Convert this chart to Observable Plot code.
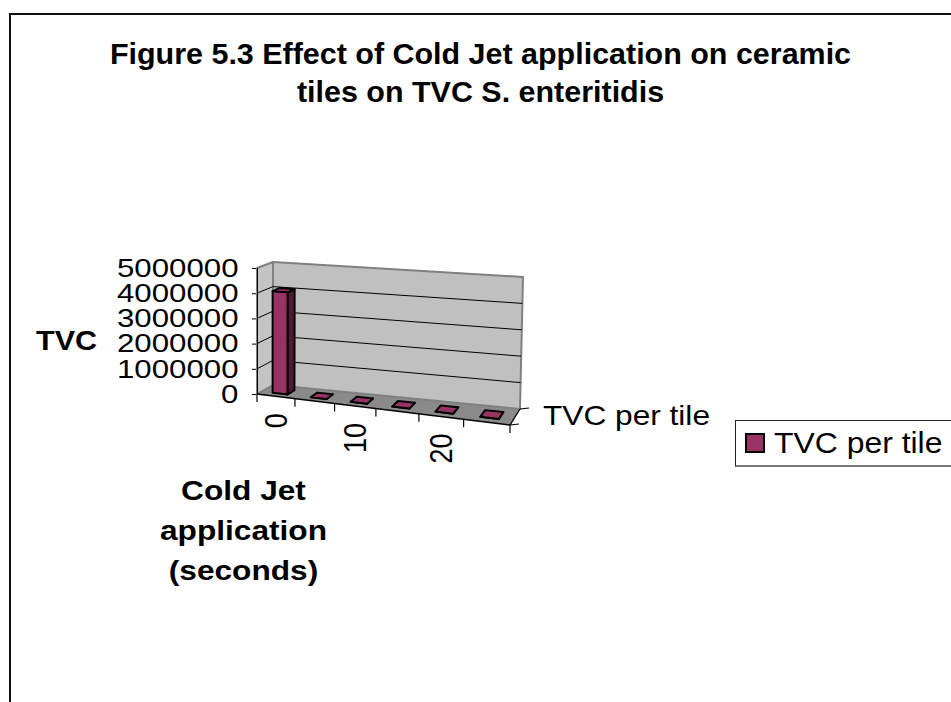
<!DOCTYPE html>
<html><head><meta charset="utf-8">
<script src="https://cdn.jsdelivr.net/npm/d3@7"></script>
<script src="https://cdn.jsdelivr.net/npm/@observablehq/plot@0.6"></script>
<style>
body{margin:0;background:#fff;width:951px;height:702px;overflow:hidden;position:relative;font-family:"Liberation Sans",Arial,sans-serif}
#chart{position:absolute;left:0;top:0}
#frame{position:absolute;left:9px;top:13px;width:980px;height:720px;border-left:2px solid #111;border-top:2px solid #111;pointer-events:none}
#legend{position:absolute;left:735px;top:420px;width:240px;height:44px;border:1px solid #222;border-bottom:2px solid #777;background:#fff}
#legend .sw{position:absolute;left:9px;top:12px;width:16px;height:16px;border:2px solid #000;background:#993366}
#legend .lt{position:absolute;left:38px;top:8px;font-size:29px;line-height:29px;white-space:nowrap;transform:scaleX(1.1);transform-origin:left center;color:#000}
</style></head><body>
<div id="chart"></div>
<div id="frame"></div>
<div id="legend"><span class="sw"></span><span class="lt"></span></div>
<script>
// ---- data ----
const titleLines = ["Figure 5.3 Effect of Cold Jet application on ceramic", "tiles on TVC S. enteritidis"];
const categories = ["0", "5", "10", "15", "20", "25"];
const tvcPerTile = [4050000, 0, 0, 0, 0, 0];
const seriesName = "TVC per tile";
const yTicks = [0, 1000000, 2000000, 3000000, 4000000, 5000000];
const xTickLabels = ["0", "10", "20"];
const yLabel = "TVC";
const xLabelLines = ["Cold Jet", "application", "(seconds)"];

const rows = categories.map((c, i) => ({category: c, index: i, value: tvcPerTile[i]}));
const n = categories.length;
const yMax = yTicks[yTicks.length - 1];
const FONT = "Liberation Sans, Arial, sans-serif";

// ---- 3D scene drawn through Plot's x/y scales ----
function scene(index, scales) {
  const X = scales.x, Y = scales.y;
  const x0 = X(0), x1 = X(n), yb = Y(0), yt = Y(yMax);
  const W = x1 - x0, H = yb - yt;
  // oblique/perspective box corners derived from the scale ranges
  const C = {
    FLB: [x0, yb], FLT: [x0, yt], FRB: [x1, yb + 31], FRT: [x1, yb - 104],
    BLB: [x0 + 16, yb - 9], BLT: [x0 + 16, yt - 6], BRB: [x1 + 10, yb + 15], BRT: [x1 + 13, yt + 9]
  };
  const lerp = (p, q, t) => [p[0] + (q[0] - p[0]) * t, p[1] + (q[1] - p[1]) * t];
  const P = (u, v, d) => {
    let a = (X(u) - x0) / W; a = a - 0.12 * a * (1 - a);
    const b = (yb - Y(v)) / H;
    const fb = lerp(C.FLB, C.FRB, a), ft = lerp(C.FLT, C.FRT, a);
    const bb = lerp(C.BLB, C.BRB, a), bt = lerp(C.BLT, C.BRT, a);
    return lerp(lerp(fb, ft, b), lerp(bb, bt, b), d);
  };
  const f = p => p[0].toFixed(2) + "," + p[1].toFixed(2);
  const poly = pts => "M" + pts.map(f).join("L") + "Z";
  const path = pts => "M" + pts.map(f).join("L");
  const g = d3.create("svg:g").attr("aria-label", "3d-scene");

  // floor
  g.append("path").attr("d", poly([P(0,0,0), P(n,0,0), P(n,0,1), P(0,0,1)])).attr("fill", "#8a8a8a");
  // back wall
  g.append("path").attr("d", poly([P(0,0,1), P(n,0,1), P(n,yMax,1), P(0,yMax,1)]))
    .attr("fill", "#c0c0c0").attr("stroke", "#808080").attr("stroke-width", 2).attr("stroke-linejoin", "round");
  // left wall
  g.append("path").attr("d", poly([P(0,0,0), P(0,0,1), P(0,yMax,1), P(0,yMax,0)]))
    .attr("fill", "#c4c4c4").attr("stroke", "#808080").attr("stroke-width", 2).attr("stroke-linejoin", "round");
  // gridlines
  for (const t of yTicks) {
    if (t <= 0 || t >= yMax) continue;
    g.append("path").attr("d", path([P(0,t,0), P(0,t,1), P(n,t,1)]))
      .attr("fill", "none").attr("stroke", "#000").attr("stroke-width", 1);
  }
  // floor edges (category axis & series axis)
  g.append("path").attr("d", path([P(0,0,0), P(n,0,0), P(n,0,1)]))
    .attr("fill", "none").attr("stroke", "#000").attr("stroke-width", 1.3);
  for (let i = 0; i <= n; i++) {
    const p = P(i, 0, 0);
    g.append("line").attr("x1", p[0]).attr("y1", p[1]).attr("x2", p[0]).attr("y2", p[1] + 8)
      .attr("stroke", "#000").attr("stroke-width", 1.2);
  }
  for (const d of [0, 1]) {
    const p = P(n, 0, d);
    g.append("line").attr("x1", p[0]).attr("y1", p[1]).attr("x2", p[0] + 9).attr("y2", p[1] - 1)
      .attr("stroke", "#000").attr("stroke-width", 1.2);
  }
  // bars
  for (const r of rows) {
    const u0 = r.index + 0.3, u1 = r.index + 0.7, d0 = 0.28, d1 = 0.72, v = r.value;
    const bar = g.append("g").attr("stroke", "#000").attr("stroke-width", 2).attr("stroke-linejoin", "round");
    bar.append("path").attr("d", poly([P(u0,0,d0), P(u1,0,d0), P(u1,v,d0), P(u0,v,d0)])).attr("fill", "#993366");
    bar.append("path").attr("d", poly([P(u1,0,d0), P(u1,0,d1), P(u1,v,d1), P(u1,v,d0)])).attr("fill", "#4f1a35");
    bar.append("path").attr("d", poly([P(u0,v,d0), P(u1,v,d0), P(u1,v,d1), P(u0,v,d1)])).attr("fill", "#993366");
  }
  // category tick labels (rotated)
  for (const r of rows) {
    if (!xTickLabels.includes(r.category)) continue;
    const p = P(r.index + 0.5, 0, 0);
    g.append("text").attr("class", "rot")
      .attr("transform", `translate(${p[0].toFixed(2)},${(p[1] + 17).toFixed(2)}) scale(1.15,1) rotate(-90)`)
      .attr("text-anchor", "end").attr("dy", "0.35em")
      .attr("font-family", FONT).attr("font-size", 27).attr("fill", "#000")
      .text(r.category);
  }
  // series (depth) axis label
  const s = P(n, 0, 0.5);
  g.append("text").attr("class", "series-label")
    .attr("x", s[0] + 28).attr("y", s[1] - 2).attr("dy", "0.35em")
    .attr("text-anchor", "start")
    .attr("font-family", FONT).attr("font-size", 28).attr("fill", "#000")
    .text(seriesName);
  return g.node();
}

const mT = 268, mB = 308, mL = 257, mR = 441;
const svg = Plot.plot({
  width: 951, height: 702,
  marginTop: mT, marginBottom: mB, marginLeft: mL, marginRight: mR,
  style: {fontFamily: FONT, fontSize: "26px", background: "transparent", overflow: "visible", color: "#000"},
  x: {type: "linear", domain: [0, n], axis: null},
  y: {type: "linear", domain: [0, yMax], ticks: yTicks, tickSize: 5, tickPadding: 14,
      tickFormat: d3.format("d"), label: null},
  marks: [
    scene,
    Plot.ruleX([0], {y1: 0, y2: yMax, stroke: "#000", strokeWidth: 1}),
    ...titleLines.map((line, i) => Plot.text([line], {
      text: d => d, frameAnchor: "top", dx: 96.5, dy: -205 + 38 * i, lineAnchor: "bottom",
      fontSize: 29, fontWeight: "bold", fontFamily: FONT, fill: "#000", ariaDescription: "title"
    })),
    Plot.text([yLabel], {
      text: d => d, frameAnchor: "left", dx: -191, dy: 10, lineAnchor: "middle", textAnchor: "middle",
      fontSize: 27, fontWeight: "bold", fontFamily: FONT, fill: "#000", ariaDescription: "axis-title"
    }),
    ...xLabelLines.map((line, i) => Plot.text([line], {
      text: d => d, frameAnchor: "bottom", dx: -140.5, dy: 105 + 40 * i, lineAnchor: "bottom", textAnchor: "middle",
      fontSize: 28, fontWeight: "bold", fontFamily: FONT, fill: "#000", ariaDescription: "axis-title"
    }))
  ]
});
document.getElementById("chart").append(svg);

// legend
document.querySelector("#legend .lt").textContent = seriesName;

// widen glyphs horizontally to match the reference's stretched lettering
function stretch(sel, s) {
  svg.querySelectorAll(sel).forEach(t => {
    const spans = t.querySelectorAll("tspan");
    const targets = spans.length ? Array.from(spans) : [t];
    targets.forEach(el => {
      const w = el.getComputedTextLength();
      if (w > 0) { el.setAttribute("textLength", (w * s).toFixed(1)); el.setAttribute("lengthAdjust", "spacingAndGlyphs"); }
    });
  });
}
stretch('g[aria-label^="y-axis"] text', 1.2);
stretch('g[aria-description="title"] text', 1.05);
stretch('g[aria-description="axis-title"] text', 1.13);
stretch('text.series-label', 1.13);
</script>
</body></html>
